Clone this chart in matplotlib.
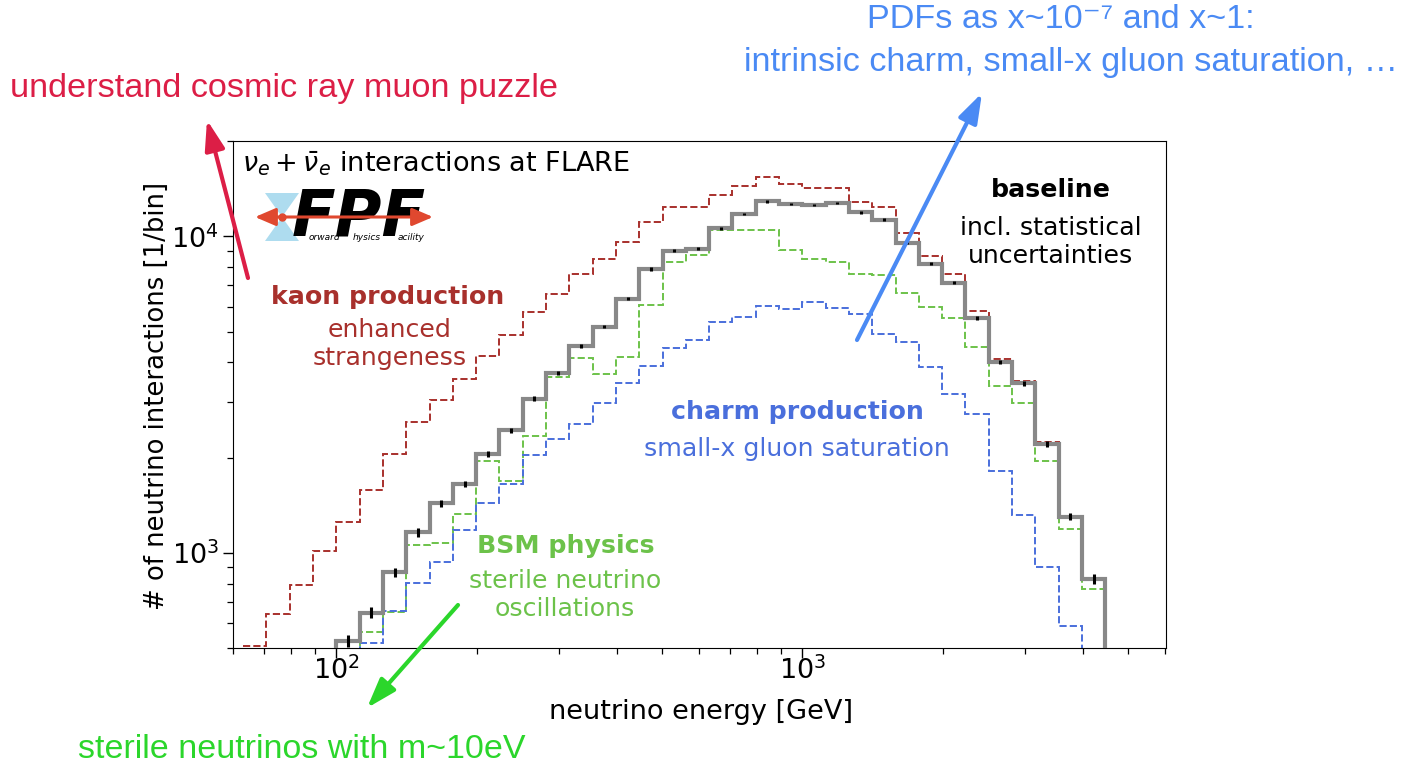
import numpy as np
import matplotlib.pyplot as plt
from matplotlib.patches import FancyArrowPatch, Polygon

# energy bins: 20 per decade
edges = np.logspace(1.80, 3.70, 39)

kaon = [507, 643, 791, 1012, 1251, 1581, 2060, 2591, 3031, 3546, 4198, 4877,
        5781, 6559, 7582, 8451, 9594, 11090, 12360, 12360, 13520, 14460, 15360,
        14650, 14250, 14250, 12880, 12360, 10240, 8650, 7585, 5807, 4090, 3486,
        2242, 1310, 832, 470]
baseline = [250, 300, 350, 420, 528, 648, 869, 1161, 1436, 1651, 2060, 2438,
            3069, 3705, 4511, 5188, 6353, 7887, 9015, 9145, 10610, 11750, 12900,
            12650, 12570, 12740, 11895, 11285, 9525, 8185, 7130, 5513, 4018, 3436,
            2205, 1303, 828, 460]
bsm = [200, 250, 320, 400, 470, 563, 651, 1062, 1075, 1329, 1950, 1691, 2336,
       3606, 4129, 3678, 4169, 6055, 8300, 8700, 10440, 10440, 10440, 9078, 8450,
       8300, 7614, 7540, 6607, 5997, 5537, 4457, 3362, 2972, 1950, 1190, 767, 440]
charm = [120, 160, 210, 280, 370, 520, 655, 801, 937, 1184, 1436, 1647, 2037,
         2286, 2547, 2979, 3445, 3882, 4436, 4697, 5368, 5566, 6040, 5887, 6204,
         5931, 5700, 4933, 4625, 3855, 3166, 2739, 1818, 1319, 901, 588, 380, 250]

RED = '#a8302c'
GREEN = '#6cc24a'
BLUE = '#4a6fdc'

W, H = 1409, 768
# axes box in pixels (left, top, right, bottom)
L, T, R, B = 233, 141, 1166, 648.3


def fig_pt(x, y):
    return (x / W, 1 - y / H)


def ax_pt(x, y):
    return ((x - L) / (R - L), (B - y) / (B - T))


def main():
    fig = plt.figure(figsize=(W / 100, H / 100), dpi=100)
    ax = fig.add_axes([L / W, 1 - B / H, (R - L) / W, (B - T) / H])

    ax.stairs(kaon, edges, baseline=None, color=RED, ls='--', lw=1.4, zorder=2)
    ax.stairs(bsm, edges, baseline=None, color=GREEN, ls='--', lw=1.4, zorder=2)
    ax.stairs(charm, edges, baseline=None, color=BLUE, ls='--', lw=1.4, zorder=2)
    ax.stairs(baseline, edges, baseline=None, color='#888888', lw=3, zorder=4)

    centers = np.sqrt(edges[:-1] * edges[1:])
    counts = np.array(baseline, dtype=float)
    ax.errorbar(centers, counts, yerr=np.sqrt(counts), fmt='none',
                ecolor='black', elinewidth=2.2, zorder=5)

    ax.set_xscale('log')
    ax.set_yscale('log')
    ax.set_xlim(60, 6030)
    ax.set_ylim(500, 2e4)
    ax.tick_params(which='major', length=7, width=1, labelsize=19.5, pad=3)
    ax.tick_params(which='minor', length=4, width=0.9)
    ax.tick_params(axis='x', which='major', pad=-1)
    ax.set_xlabel('neutrino energy [GeV]', fontsize=19.5, va='center')
    ax.set_ylabel('# of neutrino interactions [1/bin]', fontsize=18.6, va='center')
    ax.xaxis.set_label_coords(*ax_pt(701, 712))
    ax.yaxis.set_label_coords(*ax_pt(157, 396))

    ax.text(*ax_pt(242, 164), r'$\nu_e + \bar{\nu}_e$ interactions at FLARE',
            transform=ax.transAxes, fontsize=19.5, va='center')

    # labels for the variations
    kw = dict(transform=ax.transAxes, ha='center', va='center', fontsize=18.2)
    ax.text(*ax_pt(388, 297), 'kaon production', color=RED, weight='bold', **kw)
    ax.text(*ax_pt(390, 344), 'enhanced\nstrangeness', color=RED, **kw)
    ax.text(*ax_pt(1051, 190), 'baseline', color='black', weight='bold', **kw)
    ax.text(*ax_pt(1051, 242), 'incl. statistical\nuncertainties', color='black', **kw)
    ax.text(*ax_pt(797, 412), 'charm production', color=BLUE, weight='bold', **kw)
    ax.text(*ax_pt(797, 449), 'small-x gluon saturation', color=BLUE, **kw)
    ax.text(*ax_pt(566, 546), 'BSM physics', color=GREEN, weight='bold', **kw)
    ax.text(*ax_pt(565, 595), 'sterile neutrino\noscillations', color=GREEN, **kw)

    # FPF logo
    for pts in ([(265, 193), (299, 193), (282, 217)],
                [(265, 241), (299, 241), (282, 217)]):
        ax.add_patch(Polygon([ax_pt(*p) for p in pts], closed=True,
                             transform=ax.transAxes, facecolor='#aedcef',
                             edgecolor='none', zorder=6))
    ax.text(*ax_pt(292, 218), 'FPF', transform=ax.transAxes, fontsize=46,
            weight='heavy', style='italic', va='center', zorder=7)
    for x, word in ((309, 'orward'), (353, 'hysics'), (398, 'acility')):
        ax.text(*ax_pt(x, 237), word, transform=ax.transAxes, fontsize=6.5,
                style='italic', va='center', zorder=8)
    ax.add_patch(FancyArrowPatch(ax_pt(255, 217), ax_pt(433, 217),
                                 transform=ax.transAxes,
                                 arrowstyle='<|-|>,head_length=0.7,head_width=0.3',
                                 mutation_scale=18, lw=2.2, color='#e0482f',
                                 shrinkA=0, shrinkB=0, zorder=9))
    ax.plot(*ax_pt(282, 217), 'o', ms=5, color='#e0482f',
            transform=ax.transAxes, zorder=9)

    # physics motivations around the plot
    sans = ['Liberation Sans', 'DejaVu Sans']
    fig.text(*fig_pt(10, 88), 'understand cosmic ray muon puzzle',
             color='#dc1e46', fontsize=24.7, family=sans, va='center')
    fig.text(*fig_pt(1061, 20), 'PDFs as x~10\u207b\u2077 and x~1:',
             color='#4a8af4', fontsize=24.7, family=sans, ha='center', va='center')
    fig.text(*fig_pt(1071, 63), 'intrinsic charm, small-x gluon saturation, \u2026',
             color='#4a8af4', fontsize=24.7, family=sans, ha='center', va='center')
    fig.text(*fig_pt(78, 750), 'sterile neutrinos with m~10eV',
             color='#2bd62b', fontsize=24.5, family=sans, va='center')

    arrow = '-|>,head_length=0.9,head_width=0.3'
    for tail, head, col in (((248, 278), (207, 120), '#dc1e46'),
                            ((857, 340), (982, 93), '#4a8af4'),
                            ((458, 605), (367, 708), '#2bd62b')):
        fig.add_artist(FancyArrowPatch(fig_pt(*tail), fig_pt(*head),
                                       transform=fig.transFigure,
                                       arrowstyle=arrow, mutation_scale=20,
                                       lw=3, color=col, shrinkA=0, shrinkB=0,
                                       zorder=10))

    fig.savefig('out.png', dpi=100)


if __name__ == "__main__":
    main()
